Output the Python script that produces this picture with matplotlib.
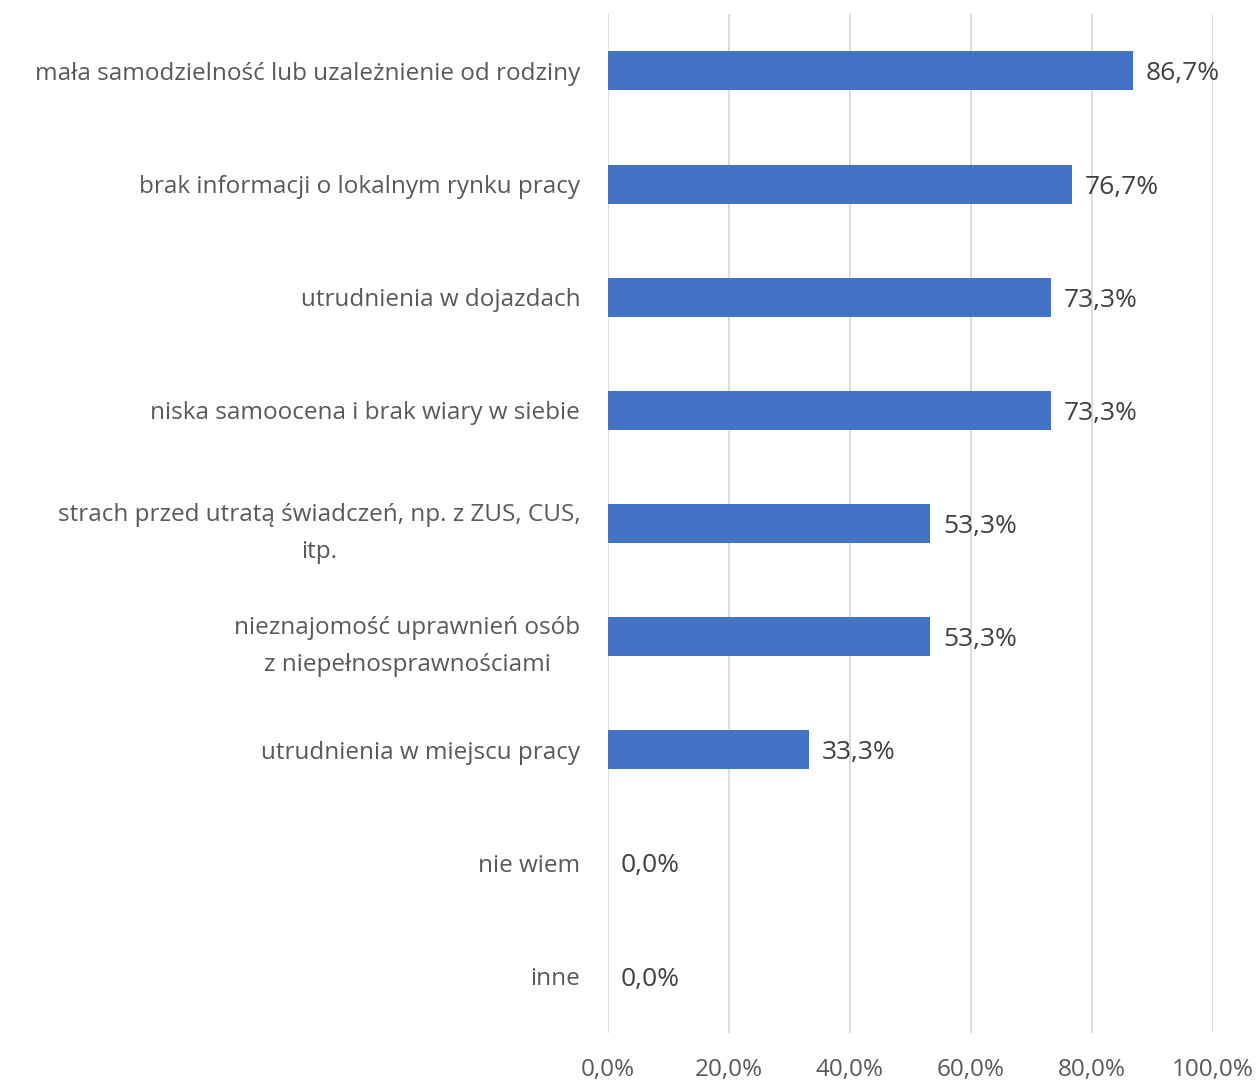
import matplotlib.pyplot as plt
from matplotlib.ticker import FuncFormatter

# Data
categories = [
    'mała samodzielność lub uzależnienie od rodziny',
    'brak informacji o lokalnym rynku pracy',
    'utrudnienia w dojazdach',
    'niska samoocena i brak wiary w siebie',
    'strach przed utratą świadczeń, np. z ZUS, CUS,\nitp.',
    'nieznajomość uprawnień osób\nz niepełnosprawnościami',
    'utrudnienia w miejscu pracy',
    'nie wiem',
    'inne',
]
values = [86.7, 76.7, 73.3, 73.3, 53.3, 53.3, 33.3, 0.0, 0.0]
xticks = [0, 20, 40, 60, 80, 100]

plt.rcParams['font.family'] = ['Open Sans', 'DejaVu Sans']
text_color = '#595959'
fs = 17.5

fig = plt.figure(figsize=(12.6, 10.84), dpi=100)
ax = fig.add_axes([0.4825, 0.0474, 0.4802, 0.9393])

pos = list(range(len(categories)))
ax.barh(pos, values, height=0.345, color='#4472C4', zorder=3)
ax.set_ylim(len(categories) - 0.5, -0.5)
ax.set_xlim(0, 100)

for p, v in zip(pos, values):
    ax.text(v + 2.1, p, f'{v:.1f}%'.replace('.', ','), va='center_baseline', ha='left',
            fontsize=19, color='#404040', zorder=4)

ax.set_yticks(pos)
ax.set_yticklabels(categories, fontsize=fs, color=text_color,
                   multialignment='center', linespacing=1.75)
ax.set_xticks(xticks)
ax.xaxis.set_major_formatter(FuncFormatter(lambda x, _: f'{x:.1f}%'.replace('.', ',')))
ax.tick_params(axis='x', labelsize=fs, labelcolor=text_color, length=0, pad=18)
ax.tick_params(axis='y', length=0, pad=20)

ax.grid(axis='x', color='#D9D9D9', linewidth=1.3, zorder=0)
for s in ax.spines.values():
    s.set_visible(False)

plt.savefig('out.png', dpi=100)
